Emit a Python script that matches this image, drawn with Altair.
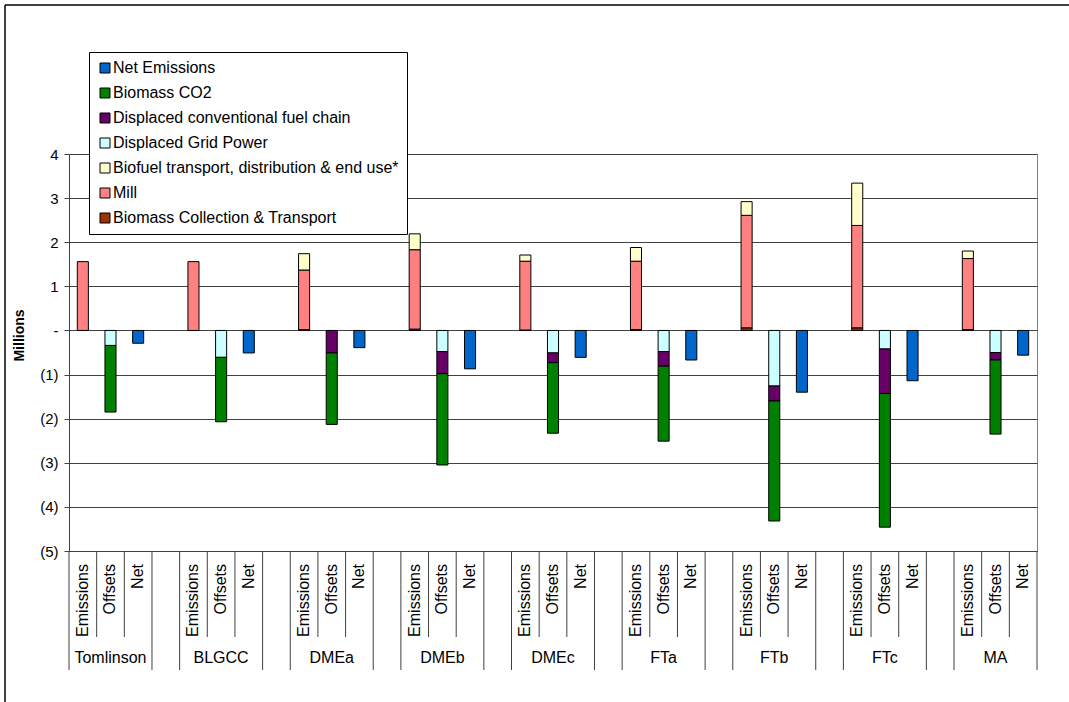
import altair as alt
import pandas as pd

# Scenario groups and the three bars drawn for each
groups = ["Tomlinson", "BLGCC", "DMEa", "DMEb", "DMEc", "FTa", "FTb", "FTc", "MA"]
bar_kinds = ["Emissions", "Offsets", "Net"]

# Emission components (millions), stacked upward on the "Emissions" bar
collection = [0.00, 0.00, 0.02, 0.03, 0.01, 0.02, 0.06, 0.06, 0.02]
mill = [1.56, 1.56, 1.35, 1.80, 1.56, 1.55, 2.55, 2.32, 1.61]
biofuel_use = [0.00, 0.00, 0.37, 0.36, 0.14, 0.31, 0.31, 0.96, 0.17]

# Offset components (millions), stacked downward on the "Offsets" bar
grid_power = [-0.34, -0.61, 0.00, -0.48, -0.51, -0.48, -1.26, -0.42, -0.50]
fuel_chain = [0.00, 0.00, -0.51, -0.50, -0.22, -0.33, -0.34, -1.01, -0.17]
biomass_co2 = [-1.51, -1.46, -1.62, -2.07, -1.60, -1.70, -2.72, -3.03, -1.68]

# Net emissions (millions)
net = [-0.29, -0.51, -0.39, -0.87, -0.61, -0.67, -1.40, -1.14, -0.56]

components = [
    "Net Emissions",
    "Biomass CO2",
    "Displaced conventional fuel chain",
    "Displaced Grid Power",
    "Biofuel transport, distribution & end use*",
    "Mill",
    "Biomass Collection & Transport",
]
colors = ["#0066CC", "#008000", "#660066", "#CCFFFF", "#FFFFCC", "#FF8080", "#993300"]

FONT = "Liberation Sans"

# Category slots: three bars per group, an empty slot between groups
slots = []
for gi, g in enumerate(groups):
    for k in bar_kinds:
        slots.append(f"{g}|{k}")
    if gi < len(groups) - 1:
        slots.append(f"gap{gi}")
n_slots = len(slots)

# Long table of stacked segments
series = [
    ("Emissions", "Biomass Collection & Transport", collection, 0),
    ("Emissions", "Mill", mill, 1),
    ("Emissions", "Biofuel transport, distribution & end use*", biofuel_use, 2),
    ("Offsets", "Displaced Grid Power", grid_power, 3),
    ("Offsets", "Displaced conventional fuel chain", fuel_chain, 4),
    ("Offsets", "Biomass CO2", biomass_co2, 5),
    ("Net", "Net Emissions", net, 6),
]
rows = []
for kind, comp, vals, order in series:
    for g, v in zip(groups, vals):
        if v != 0:
            rows.append({"slot": f"{g}|{kind}", "component": comp, "value": v, "order": order})
bars_df = pd.DataFrame(rows)

W, H = 968, 397

x_band = alt.Scale(domain=slots, paddingInner=0.6, paddingOuter=0.3)
y_scale = alt.Scale(domain=[-5, 4], nice=False, zero=False)

y_axis = alt.Axis(
    values=list(range(-5, 5)),
    labelExpr="datum.value > 0 ? datum.label : (datum.value == 0 ? '-' : '(' + format(-datum.value, 'd') + ')')",
    title="Millions",
    titleFont=FONT,
    titleFontSize=14,
    titleFontWeight="bold",
    titleColor="black",
    titleAngle=270,
    titleX=-50,
    titleY=181,
    titleAlign="center",
    titleBaseline="middle",
    labelFont=FONT,
    labelFontSize=15,
    labelColor="black",
    labelPadding=6,
    tickSize=5,
    tickColor="#404040",
    domainColor="#404040",
    gridColor="#404040",
    gridOpacity=1,
    grid=True,
)

legend = alt.Legend(
    title=None,
    orient="none",
    legendX=20,
    legendY=-102,
    fillColor="white",
    strokeColor="black",
    padding=8,
    symbolType="square",
    symbolSize=100,
    symbolStrokeColor="black",
    symbolStrokeWidth=1,
    symbolOpacity=1,
    labelFont=FONT,
    labelFontSize=16,
    labelColor="black",
    labelLimit=400,
    labelOffset=0,
    rowPadding=9,
)

bars = alt.Chart(bars_df).mark_bar(stroke="black", strokeWidth=1, opacity=1).encode(
    x=alt.X("slot:N", scale=x_band, axis=None),
    y=alt.Y("value:Q", stack="zero", scale=y_scale, axis=y_axis),
    color=alt.Color("component:N", scale=alt.Scale(domain=components, range=colors), legend=legend),
    order=alt.Order("order:Q"),
)

# Rotated bar labels under each slot
sub_df = pd.DataFrame(
    [{"slot": f"{g}|{k}", "label": k} for g in groups for k in bar_kinds]
)
sub_labels = alt.Chart(sub_df).mark_text(
    angle=270, align="right", baseline="middle", font=FONT, fontSize=16, color="black"
).encode(
    x=alt.X("slot:N", scale=x_band, axis=None),
    y=alt.value(410),
    text="label:N",
)

# Group names centred under the middle bar
grp_df = pd.DataFrame([{"slot": f"{g}|Offsets", "label": g} for g in groups])
grp_labels = alt.Chart(grp_df).mark_text(
    align="center", baseline="middle", font=FONT, fontSize=16, color="black"
).encode(
    x=alt.X("slot:N", scale=x_band, axis=None),
    y=alt.value(504),
    text="label:N",
)

# Category separators: short ones inside a group, full-height ones at group edges
edge_scale = alt.Scale(domain=[0, n_slots], nice=False, zero=False)
inner_edges = []
outer_edges = []
for gi in range(len(groups)):
    s = 4 * gi
    outer_edges += [s, s + 3]
    inner_edges += [s + 1, s + 2]
inner_rules = alt.Chart(pd.DataFrame({"edge": inner_edges})).mark_rule(
    color="#404040", strokeWidth=1
).encode(
    x=alt.X("edge:Q", scale=edge_scale, axis=None),
    y=alt.value(H),
    y2=alt.value(483),
)
outer_rules = alt.Chart(pd.DataFrame({"edge": outer_edges})).mark_rule(
    color="#404040", strokeWidth=1
).encode(
    x=alt.X("edge:Q", scale=edge_scale, axis=None),
    y=alt.value(H),
    y2=alt.value(516),
)

# Outer chart frame (left and top edges)
frame_df = pd.DataFrame({"k": [0]})
frame_left = alt.Chart(frame_df).mark_rule(color="black", strokeWidth=1.5).encode(
    x=alt.value(-64), y=alt.value(-149), y2=alt.value(560)
)
frame_top = alt.Chart(frame_df).mark_rule(color="black", strokeWidth=1.5).encode(
    x=alt.value(-64), x2=alt.value(W + 40), y=alt.value(-149)
)

chart = (
    alt.layer(bars, sub_labels, grp_labels, inner_rules, outer_rules, frame_left, frame_top)
    .resolve_scale(x="independent")
    .properties(
        width=W,
        height=H,
        padding={"left": 69, "top": 154, "right": 32, "bottom": 151},
        autosize=alt.AutoSizeParams(type="none"),
        background="white",
    )
    .configure_view(stroke="#808080", strokeWidth=1)
)

chart.save("out.html", embed_options={"renderer": "svg", "actions": False})
